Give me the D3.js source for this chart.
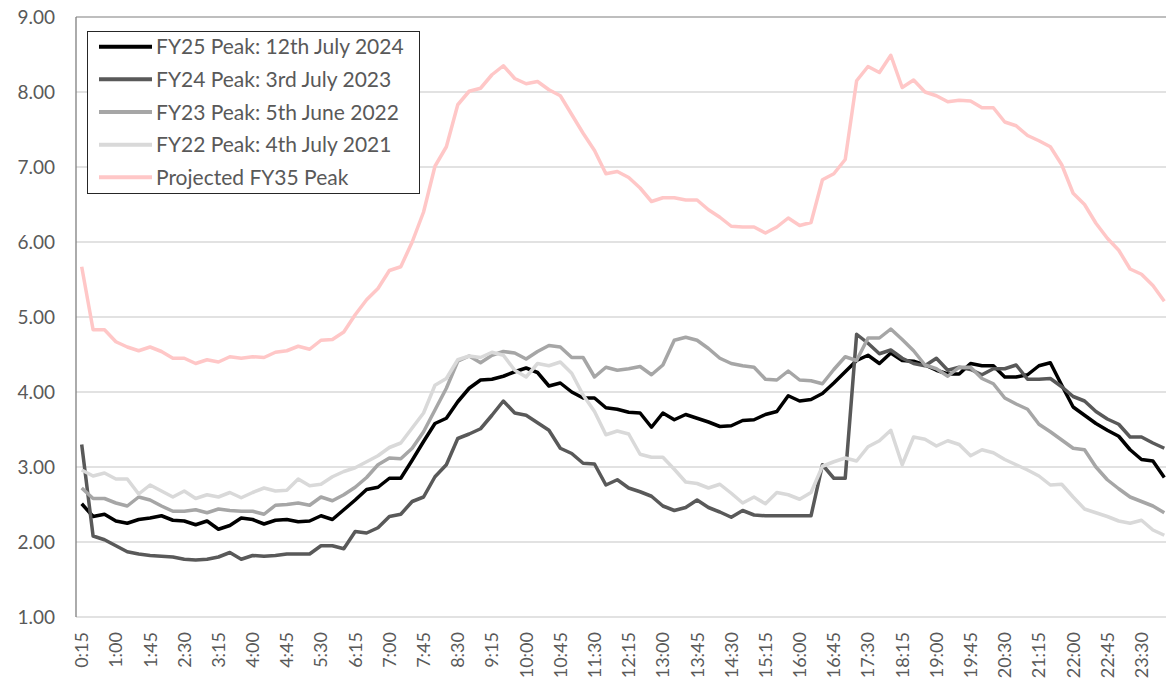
<!DOCTYPE html>
<html>
<head>
<meta charset="utf-8">
<script src="https://cdn.jsdelivr.net/npm/d3@7"></script>
<style>
  body { margin: 0; background: #fff; }
  text { font-family: Lato, "Open Sans", sans-serif; fill: #595959; }
</style>
</head>
<body>
<div id="chart"></div>
<script>
// Categories (every 15 min)
const times = [
  "0:15","0:30","0:45","1:00","1:15","1:30","1:45","2:00","2:15","2:30","2:45","3:00",
  "3:15","3:30","3:45","4:00","4:15","4:30","4:45","5:00","5:15","5:30","5:45","6:00",
  "6:15","6:30","6:45","7:00","7:15","7:30","7:45","8:00","8:15","8:30","8:45","9:00",
  "9:15","9:30","9:45","10:00","10:15","10:30","10:45","11:00","11:15","11:30","11:45","12:00",
  "12:15","12:30","12:45","13:00","13:15","13:30","13:45","14:00","14:15","14:30","14:45","15:00",
  "15:15","15:30","15:45","16:00","16:15","16:30","16:45","17:00","17:15","17:30","17:45","18:00",
  "18:15","18:30","18:45","19:00","19:15","19:30","19:45","20:00","20:15","20:30","20:45","21:00",
  "21:15","21:30","21:45","22:00","22:15","22:30","22:45","23:00","23:15","23:30","23:45","24:00"
];

const fy25 = [
  2.51,2.34,2.37,2.28,2.25,2.30,2.32,2.35,2.29,2.28,2.23,2.28,
  2.17,2.22,2.32,2.30,2.24,2.29,2.30,2.27,2.28,2.35,2.30,2.43,
  2.56,2.70,2.73,2.85,2.85,3.09,3.34,3.58,3.65,3.87,4.05,4.16,
  4.17,4.21,4.27,4.32,4.26,4.08,4.12,4.00,3.92,3.92,3.79,3.77,
  3.73,3.72,3.53,3.72,3.63,3.70,3.65,3.60,3.54,3.55,3.62,3.63,
  3.70,3.74,3.95,3.88,3.90,3.98,4.12,4.27,4.42,4.49,4.38,4.52,
  4.42,4.41,4.36,4.29,4.24,4.24,4.38,4.35,4.35,4.20,4.20,4.23,
  4.35,4.39,4.09,3.80,3.69,3.58,3.49,3.41,3.23,3.10,3.08,2.86
];

const fy24 = [
  3.30,2.08,2.03,1.95,1.87,1.84,1.82,1.81,1.80,1.77,1.76,1.77,
  1.80,1.86,1.77,1.82,1.81,1.82,1.84,1.84,1.84,1.95,1.95,1.91,
  2.14,2.12,2.19,2.34,2.37,2.54,2.60,2.87,3.03,3.38,3.44,3.51,
  3.69,3.88,3.72,3.69,3.59,3.49,3.25,3.18,3.05,3.04,2.76,2.83,
  2.72,2.67,2.61,2.48,2.42,2.46,2.56,2.46,2.40,2.33,2.42,2.36,
  2.35,2.35,2.35,2.35,2.35,3.03,2.85,2.85,4.77,4.65,4.51,4.56,
  4.45,4.38,4.35,4.45,4.29,4.33,4.30,4.23,4.31,4.31,4.36,4.17,
  4.17,4.18,4.07,3.94,3.88,3.74,3.64,3.57,3.40,3.40,3.32,3.25
];

const fy23 = [
  2.72,2.58,2.58,2.52,2.48,2.60,2.56,2.48,2.41,2.41,2.43,2.39,
  2.44,2.42,2.41,2.41,2.37,2.49,2.50,2.52,2.49,2.60,2.55,2.63,
  2.73,2.86,3.03,3.12,3.11,3.25,3.47,3.76,4.05,4.41,4.48,4.39,
  4.49,4.54,4.52,4.44,4.54,4.62,4.60,4.46,4.46,4.20,4.33,4.29,
  4.31,4.34,4.23,4.36,4.69,4.73,4.69,4.58,4.45,4.38,4.35,4.33,
  4.17,4.16,4.28,4.16,4.15,4.11,4.30,4.47,4.42,4.72,4.72,4.84,
  4.70,4.55,4.36,4.31,4.21,4.33,4.33,4.18,4.11,3.92,3.84,3.77,
  3.57,3.47,3.36,3.25,3.23,3.00,2.83,2.71,2.60,2.54,2.48,2.39
];

const fy22 = [
  2.96,2.88,2.92,2.84,2.84,2.64,2.76,2.68,2.60,2.68,2.58,2.63,
  2.60,2.66,2.59,2.66,2.72,2.68,2.69,2.84,2.75,2.77,2.87,2.94,
  2.99,3.07,3.15,3.26,3.32,3.52,3.72,4.09,4.18,4.43,4.48,4.46,
  4.53,4.49,4.29,4.20,4.38,4.35,4.40,4.25,3.96,3.74,3.43,3.48,
  3.44,3.17,3.13,3.13,2.97,2.80,2.78,2.72,2.77,2.65,2.52,2.60,
  2.51,2.66,2.63,2.57,2.66,3.01,3.07,3.12,3.08,3.27,3.35,3.49,
  3.03,3.40,3.37,3.28,3.35,3.30,3.15,3.23,3.19,3.10,3.03,2.96,
  2.88,2.76,2.77,2.60,2.44,2.39,2.34,2.28,2.25,2.29,2.16,2.09
];

const fy35 = [
  5.67,4.83,4.83,4.67,4.60,4.55,4.60,4.54,4.45,4.45,4.38,4.43,
  4.40,4.47,4.45,4.47,4.46,4.53,4.55,4.61,4.57,4.69,4.70,4.80,
  5.03,5.23,5.38,5.62,5.67,6.00,6.40,7.01,7.27,7.83,8.01,8.05,
  8.23,8.35,8.18,8.11,8.14,8.03,7.95,7.70,7.45,7.22,6.91,6.94,
  6.86,6.72,6.54,6.59,6.59,6.56,6.56,6.43,6.33,6.21,6.20,6.20,
  6.12,6.20,6.32,6.22,6.26,6.83,6.91,7.10,8.15,8.34,8.26,8.49,
  8.06,8.16,8.00,7.95,7.87,7.89,7.88,7.79,7.79,7.60,7.55,7.42,
  7.35,7.27,7.03,6.65,6.50,6.25,6.05,5.89,5.64,5.57,5.42,5.21
];

const seriesNames = [
  "FY25 Peak: 12th July 2024",
  "FY24 Peak: 3rd July 2023",
  "FY23 Peak: 5th June 2022",
  "FY22 Peak: 4th July 2021",
  "Projected FY35 Peak"
];
const seriesValues = [fy25, fy24, fy23, fy22, fy35];
const seriesColors = ["#000000", "#595959", "#a6a6a6", "#d9d9d9", "#ffc7c7"];
const yTicks = [1, 2, 3, 4, 5, 6, 7, 8, 9];

const width = 1166, height = 689;
const plot = { left: 76, top: 17, bottom: 617, right: 1170 };

let svg = d3.select("#chart")
  .append("svg")
  .attr("width", width)
  .attr("height", height);

// Scales
let x = d3.scaleBand()
  .domain(times)
  .range([plot.left, plot.right]);

let y = d3.scaleLinear()
  .domain([1, 9])
  .range([plot.bottom, plot.top]);

const cx = d => x(d) + x.bandwidth() / 2;

// Gridlines
svg.append("g")
  .selectAll("line")
  .data(yTicks)
  .enter()
  .append("line")
  .attr("x1", plot.left)
  .attr("x2", width)
  .attr("y1", d => y(d))
  .attr("y2", d => y(d))
  .attr("stroke", d => d === 9 ? "#7f7f7f" : "#d9d9d9")
  .attr("stroke-width", d => d === 9 ? 1.2 : 1.5);

// Left axis line
svg.append("line")
  .attr("x1", plot.left).attr("x2", plot.left)
  .attr("y1", plot.top).attr("y2", plot.bottom)
  .attr("stroke", "#7f7f7f")
  .attr("stroke-width", 1.3);

// Y axis labels
let yAxis = svg.append("g")
  .attr("transform", `translate(${plot.left}, 0)`)
  .call(d3.axisLeft(y).tickValues(yTicks).tickSize(0).tickPadding(21)
    .tickFormat(d3.format(".2f")));
yAxis.select(".domain").remove();
yAxis.selectAll("text")
  .style("font-size", "19px")
  .style("font-family", "Lato, sans-serif")
  .attr("fill", "#595959");

// X axis labels (every third category)
let xAxis = svg.append("g")
  .attr("transform", `translate(0, ${plot.bottom})`)
  .call(d3.axisBottom(x).tickValues(times.filter((t, i) => i % 3 === 0)).tickSize(0));
xAxis.select(".domain").remove();
xAxis.selectAll("text")
  .attr("y", 0)
  .attr("x", -15)
  .attr("dy", "0.36em")
  .attr("transform", "rotate(-90)")
  .style("text-anchor", "end")
  .style("font-size", "18px")
  .style("font-family", "Lato, sans-serif")
  .attr("fill", "#595959");

// Lines
let line = d3.line()
  .x((d, i) => cx(times[i]))
  .y(d => y(d));

svg.append("g")
  .selectAll("path")
  .data(seriesValues)
  .enter()
  .append("path")
  .attr("d", d => line(d))
  .attr("fill", "none")
  .attr("stroke", (d, i) => seriesColors[i])
  .attr("stroke-width", 3.5)
  .attr("stroke-linejoin", "round");

// Legend
let legend = svg.append("g");
legend.append("rect")
  .attr("x", 87.5).attr("y", 31.5)
  .attr("width", 332).attr("height", 162)
  .attr("fill", "#fff")
  .attr("stroke", "#262626")
  .attr("stroke-width", 1);

let items = legend.selectAll("g.item")
  .data(seriesNames)
  .enter()
  .append("g")
  .attr("class", "item")
  .attr("transform", (d, i) => `translate(0, ${46.7 + i * 32.65})`);

items.append("line")
  .attr("x1", 99).attr("x2", 152)
  .attr("y1", 0).attr("y2", 0)
  .attr("stroke", (d, i) => seriesColors[i])
  .attr("stroke-width", 4);

items.append("text")
  .attr("x", 156)
  .attr("dy", "0.36em")
  .style("font-size", "21px")
  .text(d => d);
</script>
</body>
</html>
